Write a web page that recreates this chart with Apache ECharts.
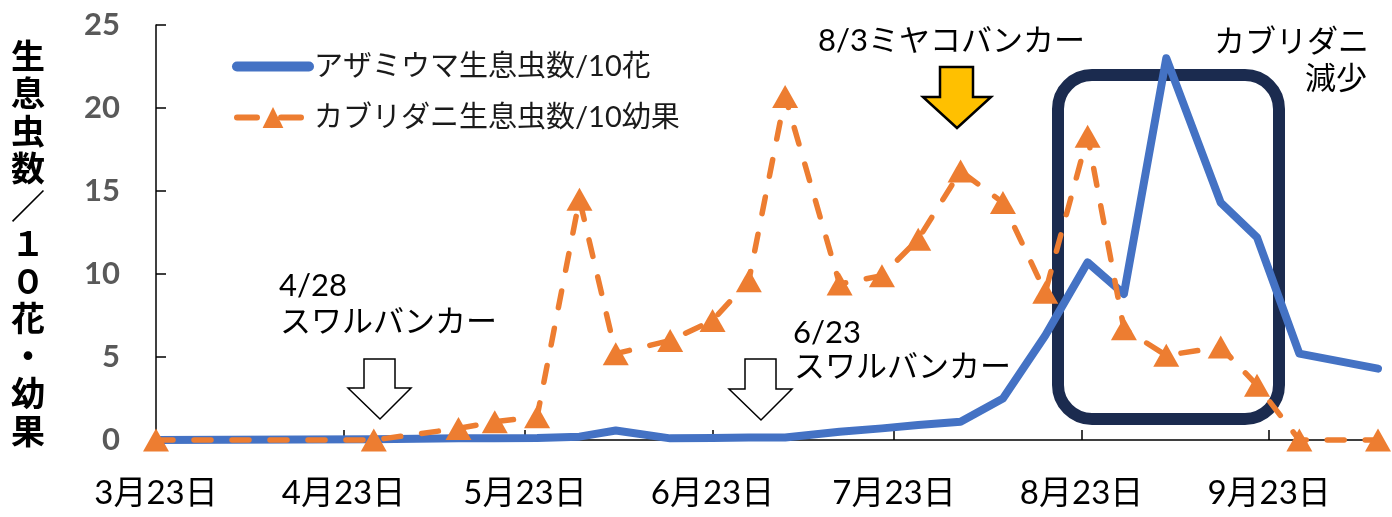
<!DOCTYPE html>
<html>
<head>
<meta charset="utf-8">
<script src="https://cdn.jsdelivr.net/npm/echarts@6/dist/echarts.min.js"></script>
<style>
html,body{margin:0;padding:0;background:#fff;}
#chart{width:1392px;height:517px;}
</style>
</head>
<body>
<div id="chart"></div>
<script>
// ---- data ----
const dates = ['3/23','4/28','5/12','5/18','5/25','6/1','6/7','6/16','6/23','6/29','7/5','7/14','7/21','7/27','8/3','8/10','8/17','8/24','8/30','9/6','9/15','9/21','9/28','10/11'];
const thrips = [0,0.05,0.1,0.1,0.12,0.2,0.57,0.1,0.12,0.15,0.15,0.5,0.7,0.9,1.1,2.5,6.3,10.7,8.8,23.0,14.3,12.2,5.2,4.3];
const mites  = [0,0,0.7,1.1,1.4,14.5,5.2,6.0,7.2,9.6,20.7,9.4,9.9,12.1,16.2,14.3,8.9,18.3,6.7,5.1,5.6,3.3,0,0];
const xTickDates = ['3/23','4/23','5/23','6/23','7/23','8/23','9/23'];
const yTicks = [0,5,10,15,20,25];
const seriesNames = ['アザミウマ生息虫数/10花','カブリダニ生息虫数/10幼果'];
const yTitle = '生息虫数／１０花・幼果';
const YEAR = 2020;

const DAY = 86400000;
function ts(md){ const p = md.split('/'); return Date.UTC(YEAR, +p[0]-1, +p[1]); }
const T0 = ts(dates[0]);
function dayOf(md){ return Math.round((ts(md)-T0)/DAY); }
function fmtDay(v){ const d = new Date(T0 + v*DAY); return (d.getUTCMonth()+1)+'月'+d.getUTCDate()+'日'; }

const FONT = 'Lato, "Noto Sans CJK JP", sans-serif';
const chart = echarts.init(document.getElementById('chart'));
const xTickDays = xTickDates.map(dayOf);

chart.setOption({
  animation:false,
  backgroundColor:'#fff',
  grid:{left:156,right:14,top:25,bottom:77,containLabel:false},
  legend:{
    orient:'vertical', left:227, top:47, itemWidth:72, itemHeight:26, itemGap:22,
    textStyle:{fontFamily:FONT,fontSize:29,color:'#1a1a1a'},
    data:[
      {name:seriesNames[0],itemStyle:{opacity:0},lineStyle:{width:10,color:'#4472C4',cap:'round',type:'solid'}},
      {name:seriesNames[1],lineStyle:{width:6,color:'#ED7D31',cap:'round',type:[20,24]}}
    ]
  },
  xAxis:{
    type:'value', min:0, max:dayOf(dates[dates.length-1]),
    axisLine:{show:true,lineStyle:{color:'#000',width:1.5}},
    axisTick:{show:true,inside:true,length:10,customValues:xTickDays,lineStyle:{color:'#000',width:1.5}},
    axisLabel:{customValues:xTickDays,margin:37,fontFamily:FONT,fontSize:33,color:'#000',showMinLabel:true,
      formatter:function(v){return fmtDay(v);}},
    splitLine:{show:false}
  },
  yAxis:{
    type:'value', min:yTicks[0], max:yTicks[yTicks.length-1], interval:5,
    axisLine:{show:true,lineStyle:{color:'#000',width:1.5}},
    axisTick:{show:true,inside:true,length:10,lineStyle:{color:'#000',width:1.5}},
    axisLabel:{margin:36,fontFamily:FONT,fontSize:31,fontWeight:'bold',color:'#595959'},
    splitLine:{show:false}
  },
  series:[
    {name:seriesNames[0],type:'line',symbol:'none',clip:false,z:3,
     data:dates.map((d,i)=>[dayOf(d),thrips[i]]),
     lineStyle:{color:'#4472C4',width:8,cap:'round',join:'round'},
     itemStyle:{color:'#4472C4'}},
    {name:seriesNames[1],type:'line',symbol:'triangle',symbolSize:[26,23],showAllSymbol:true,clip:false,z:4,
     data:dates.map((d,i)=>[dayOf(d),mites[i]]),
     lineStyle:{color:'#ED7D31',width:5.5,type:[17,21],cap:'round',join:'round'},
     itemStyle:{color:'#ED7D31'}}
  ],
  graphic:[
    {type:'text',z:5,x:28,y:37,style:{text:yTitle.split('').join('\n'),font:'bold 34px "Noto Sans CJK JP"',lineHeight:37.5,fill:'#000',align:'center',verticalAlign:'top'}},
    {type:'rect',z:1,shape:{x:1058,y:75,width:221,height:344,r:34},style:{fill:'none',stroke:'#1B2B4F',lineWidth:12}},
    {type:'polygon',z:5,shape:{points:[[364,359],[395,359],[395,388],[411,388],[380,419],[348,388],[364,388]]},style:{fill:'#fff',stroke:'#000',lineWidth:1.5}},
    {type:'polygon',z:5,shape:{points:[[745,359],[776,359],[776,389],[792,389],[761,420],[729,389],[745,389]]},style:{fill:'#fff',stroke:'#000',lineWidth:1.5}},
    {type:'polygon',z:5,shape:{points:[[940,67],[973,67],[973,97],[991,97],[957,128],[923,97],[940,97]]},style:{fill:'#FFC000',stroke:'#000',lineWidth:2.5}},
    {type:'text',z:5,x:279,y:286,style:{text:'4/28',font:'31px '+FONT,fill:'#000',align:'left',verticalAlign:'middle'}},
    {type:'text',z:5,x:280,y:322,style:{text:'スワルバンカー',font:'31px '+FONT,fill:'#000',align:'left',verticalAlign:'middle'}},
    {type:'text',z:5,x:793,y:333,style:{text:'6/23',font:'31px '+FONT,fill:'#000',align:'left',verticalAlign:'middle'}},
    {type:'text',z:5,x:794,y:367,style:{text:'スワルバンカー',font:'31px '+FONT,fill:'#000',align:'left',verticalAlign:'middle'}},
    {type:'text',z:5,x:818,y:41,style:{text:'8/3ミヤコバンカー',font:'31px '+FONT,fill:'#000',align:'left',verticalAlign:'middle'}},
    {type:'text',z:5,x:1214,y:42,style:{text:'カブリダニ',font:'31px '+FONT,fill:'#000',align:'left',verticalAlign:'middle'}},
    {type:'text',z:5,x:1305,y:79,style:{text:'減少',font:'31px '+FONT,fill:'#000',align:'left',verticalAlign:'middle'}}
  ]
});
</script>
</body>
</html>
